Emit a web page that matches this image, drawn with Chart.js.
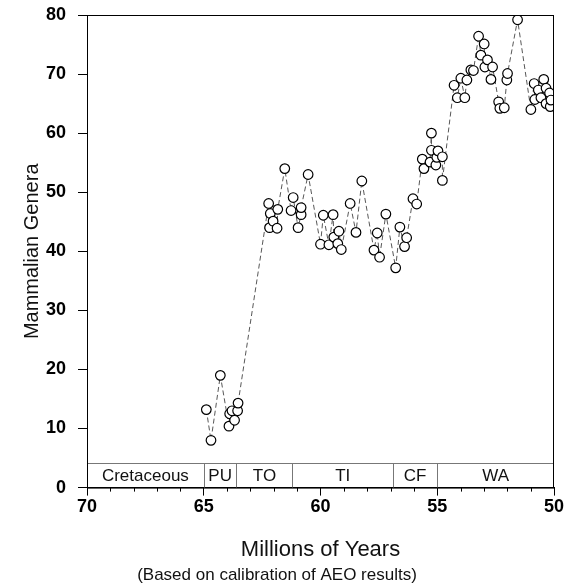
<!DOCTYPE html>
<html>
<head>
<meta charset="utf-8">
<script src="https://cdn.jsdelivr.net/npm/chart.js@4"></script>
<style>
    html, body { margin: 0; padding: 0; background: #fff; }
    #wrap { width: 575px; height: 586px; }
</style>
</head>
<body>
<div id="wrap"><canvas id="chart"></canvas></div>
<script>
// age (Ma) and genera count, in stratigraphic order
const ages = [
    64.89, 64.69, 64.29, 63.92, 63.89, 63.79, 63.68, 63.55, 63.53,
    62.22, 62.18, 62.15, 62.03, 61.86, 61.83, 61.53, 61.26, 61.17, 60.96, 60.83, 60.83, 60.53,
    60.00, 59.88, 59.64, 59.46, 59.43, 59.26, 59.21, 59.11, 58.73, 58.48, 58.23, 57.71, 57.57,
    57.47, 57.20, 56.78, 56.60, 56.40, 56.31,
    56.04, 55.88, 55.64, 55.57, 55.31, 55.25, 55.25, 55.06, 55.02, 54.97, 54.78, 54.78,
    54.28, 54.14, 53.99, 53.82, 53.73, 53.56, 53.45, 53.23, 53.13, 52.99, 52.96, 52.85, 52.70,
    52.63, 52.37, 52.32, 52.13, 52.02, 51.99, 51.56, 50.99, 50.85, 50.82, 50.67, 50.56, 50.44,
    50.34, 50.34, 50.19, 50.16, 50.13
];
const genera = [
    13.2, 8.0, 19.0, 10.4, 12.5, 13.0, 11.4, 13.0, 14.3,
    48.1, 44.0, 46.4, 45.1, 43.9, 47.1, 54.0, 46.9, 49.1, 44.0, 46.2, 47.4, 53.0,
    41.2, 46.1, 41.1, 46.2, 42.4, 41.3, 43.4, 40.3, 48.1, 43.2, 51.9, 40.2, 43.1,
    39.0, 46.3, 37.2, 44.1, 40.8, 42.3,
    48.9, 48.0, 55.6, 54.0, 55.1, 60.0, 57.1, 54.6, 55.9, 57.0, 56.0, 52.0,
    68.1, 66.0, 69.3, 66.0, 69.0, 70.7, 70.6, 76.4, 73.2, 75.1, 71.2, 72.4, 69.1,
    71.2, 65.3, 64.2, 64.3, 69.0, 70.1, 79.2, 64.0, 68.4, 65.7, 67.3, 66.0, 69.1,
    67.6, 65.0, 66.8, 64.5, 65.6
];

// land-mammal age band along the bottom
const bandNames = ['Cretaceous', 'PU', 'TO', 'TI', 'CF', 'WA'];
const bandEdges = [70, 65, 63.6, 61.2, 56.9, 55, 50];
const bandTop = 4.2;

const fontFamily = '"Liberation Sans", Arial, Helvetica, sans-serif';

const bandPlugin = {
    id: 'bandPlugin',
    beforeDatasetsDraw(chart) {
        const { ctx, chartArea } = chart;
        const x = chart.scales.x;
        const y = chart.scales.y;
        const yTop = Math.round(y.getPixelForValue(bandTop)) + 0.5;
        const yBot = y.getPixelForValue(0);
        ctx.save();
        ctx.strokeStyle = '#777';
        ctx.lineWidth = 1;
        ctx.beginPath();
        ctx.moveTo(chartArea.left, yTop);
        ctx.lineTo(chartArea.right, yTop);
        for (let i = 1; i < bandEdges.length - 1; i++) {
            const px = Math.round(x.getPixelForValue(bandEdges[i])) + 0.5;
            ctx.moveTo(px, yTop);
            ctx.lineTo(px, yBot);
        }
        ctx.stroke();
        ctx.fillStyle = '#111';
        ctx.font = '17px ' + fontFamily;
        ctx.textAlign = 'center';
        ctx.textBaseline = 'middle';
        bandNames.forEach((name, i) => {
            const cx = (x.getPixelForValue(bandEdges[i]) + x.getPixelForValue(bandEdges[i + 1])) / 2;
            ctx.fillText(name, cx, (yTop + yBot) / 2 + 1);
        });
        ctx.restore();
    },
    afterDraw(chart) {
        const { ctx, chartArea } = chart;
        const x = chart.scales.x;
        ctx.save();
        // frame
        ctx.strokeStyle = '#000';
        ctx.lineWidth = 1;
        ctx.strokeRect(chartArea.left + 0.5, chartArea.top + 0.5,
            chartArea.right - chartArea.left - 1, chartArea.bottom - chartArea.top);
        // minor ticks on the age axis
        ctx.beginPath();
        for (let v = x.min; v <= x.max; v++) {
            if (v % 5 === 0) continue;
            const px = Math.round(x.getPixelForValue(v)) + 0.5;
            ctx.moveTo(px, chartArea.bottom);
            ctx.lineTo(px, chartArea.bottom + 4);
        }
        ctx.stroke();
        ctx.restore();
    }
};

new Chart(document.getElementById('chart'), {
    type: 'scatter',
    data: {
        datasets: [{
            data: ages.map((a, i) => ({ x: a, y: genera[i] })),
            showLine: true,
            borderColor: '#444',
            borderWidth: 0.9,
            borderDash: [5, 3],
            pointRadius: 4.8,
            pointBorderWidth: 1.2,
            pointBorderColor: '#000',
            pointBackgroundColor: '#fff',
            pointHoverRadius: 4.8
        }]
    },
    options: {
        responsive: true,
        maintainAspectRatio: false,
        animation: false,
        events: [],
        layout: { padding: { top: 15, right: 21, left: 0, bottom: 0 } },
        plugins: {
            legend: { display: false },
            tooltip: { enabled: false },
            title: {
                display: true,
                position: 'bottom',
                text: '(Based on calibration of AEO results)',
                color: '#111',
                font: { family: fontFamily, size: 17, weight: 'normal' },
                padding: { top: 2, bottom: 0 }
            }
        },
        scales: {
            x: {
                type: 'linear',
                min: 50,
                max: 70,
                reverse: true,
                border: { display: true, color: '#000', width: 1 },
                grid: { drawOnChartArea: false, tickLength: 8, color: '#000' },
                ticks: {
                    stepSize: 5,
                    color: '#000',
                    padding: 1,
                    font: { family: fontFamily, size: 18, weight: 'bold' }
                },
                title: {
                    display: true,
                    text: 'Millions of Years',
                    color: '#111',
                    font: { family: fontFamily, size: 22 },
                    padding: { top: 18, bottom: 0 }
                }
            },
            y: {
                min: 0,
                max: 80,
                border: { display: true, color: '#000', width: 1 },
                grid: { drawOnChartArea: false, tickLength: 9, color: '#000' },
                ticks: {
                    stepSize: 10,
                    color: '#000',
                    padding: 12,
                    font: { family: fontFamily, size: 18, weight: 'bold' }
                },
                title: {
                    display: true,
                    text: 'Mammalian Genera',
                    color: '#111',
                    font: { family: fontFamily, size: 20 },
                    padding: { top: 20, bottom: 0 }
                },
                afterFit(scale) {
                    scale.width = 87;
                    scale.paddingTop = 0;
                    scale.paddingBottom = 0;
                }
            }
        }
    },
    plugins: [bandPlugin]
});
</script>
</body>
</html>
